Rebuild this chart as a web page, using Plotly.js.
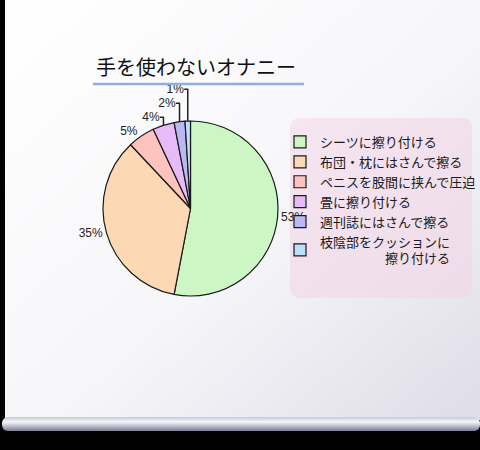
<!DOCTYPE html>
<html>
<head>
<meta charset="utf-8">
<script src="https://cdn.plot.ly/plotly-3.0.1.min.js"></script>
<style>
  html, body { margin: 0; padding: 0; background: #000; }
  #chart { width: 480px; height: 450px; }
</style>
</head>
<body>
<div id="chart"></div>
<script>
// chart data
const chartTitle = "手を使わないオナニー";
const labels = [
  "シーツに擦り付ける",
  "布団・枕にはさんで擦る",
  "ペニスを股間に挟んで圧迫",
  "畳に擦り付ける",
  "週刊誌にはさんで擦る",
  "枝陰部をクッションに<br>　　　　　擦り付ける"
];
const values = [53, 35, 5, 4, 2, 1];
const sliceColors = ["#ccf7c4", "#fdd8b4", "#fcc4bc", "#e8baf8", "#bcb8f4", "#bce0f8"];

const W = 480, H = 450;
function px(x) { return x / W; }
function py(y) { return 1 - y / H; }

// screen background (gradient, roller bar, legend panel)
const bgSvg =
  '<svg xmlns="http://www.w3.org/2000/svg" width="480" height="450">' +
  '<defs>' +
  '<linearGradient id="g" x1="0" y1="0" x2="1" y2="1">' +
  '<stop offset="0" stop-color="#ffffff"/><stop offset="0.55" stop-color="#f6f6f9"/><stop offset="1" stop-color="#dedde8"/>' +
  '</linearGradient>' +
  '<linearGradient id="r" x1="0" y1="0" x2="0" y2="1">' +
  '<stop offset="0" stop-color="#c8c8d4"/><stop offset="0.35" stop-color="#f6f6fc"/><stop offset="1" stop-color="#7c7c94"/>' +
  '</linearGradient>' +
  '<linearGradient id="p" x1="0" y1="0" x2="1" y2="1">' +
  '<stop offset="0" stop-color="#f5e6f0"/><stop offset="1" stop-color="#efdbe9"/>' +
  '</linearGradient>' +
  '</defs>' +
  '<rect width="480" height="450" fill="#000"/>' +
  '<rect x="5" y="0" width="475" height="420" fill="url(#g)"/>' +
  '<rect x="2" y="417" width="478" height="14" rx="6" fill="url(#r)"/>' +
  '<rect x="290" y="118" width="182" height="180" rx="9" fill="url(#p)"/>' +
  '</svg>';

const data = [{
  type: "pie",
  labels: labels,
  values: values,
  sort: false,
  direction: "clockwise",
  rotation: 0,
  marker: { colors: sliceColors, line: { color: "#1a1a1a", width: 1.2 } },
  texttemplate: "%{value}%",
  textposition: "outside",
  textfont: { family: "Liberation Sans, Arial, sans-serif", size: 12, color: "#222" },
  hoverinfo: "label+percent",
  domain: { x: [px(103), px(278)], y: [py(296), py(121)] }
}];

const layout = {
  width: W,
  height: H,
  margin: { l: 0, r: 0, t: 0, b: 0, autoexpand: false },
  paper_bgcolor: "rgba(0,0,0,0)",
  plot_bgcolor: "rgba(0,0,0,0)",
  showlegend: true,
  legend: {
    x: px(280), y: py(127), xanchor: "left", yanchor: "top",
    bgcolor: "rgba(0,0,0,0)",
    font: { family: "Noto Sans CJK JP", size: 13, color: "#1a1a1a" },
    itemclick: false
  },
  images: [{
    source: "data:image/svg+xml;charset=utf-8," + encodeURIComponent(bgSvg),
    xref: "paper", yref: "paper", x: 0, y: 1, sizex: 1, sizey: 1,
    sizing: "stretch", layer: "below"
  }],
  annotations: [{
    text: chartTitle,
    xref: "paper", yref: "paper",
    x: px(94), y: py(66), xanchor: "left", yanchor: "middle",
    showarrow: false,
    font: { family: "Noto Sans CJK JP", size: 20, color: "#111" }
  }],
  shapes: [{
    type: "line", xref: "paper", yref: "paper",
    x0: px(93), x1: px(304), y0: py(84), y1: py(84),
    line: { color: "#94ace4", width: 2.5 }
  }]
};

Plotly.newPlot("chart", data, layout, { displayModeBar: false, staticPlot: true });
</script>
</body>
</html>
